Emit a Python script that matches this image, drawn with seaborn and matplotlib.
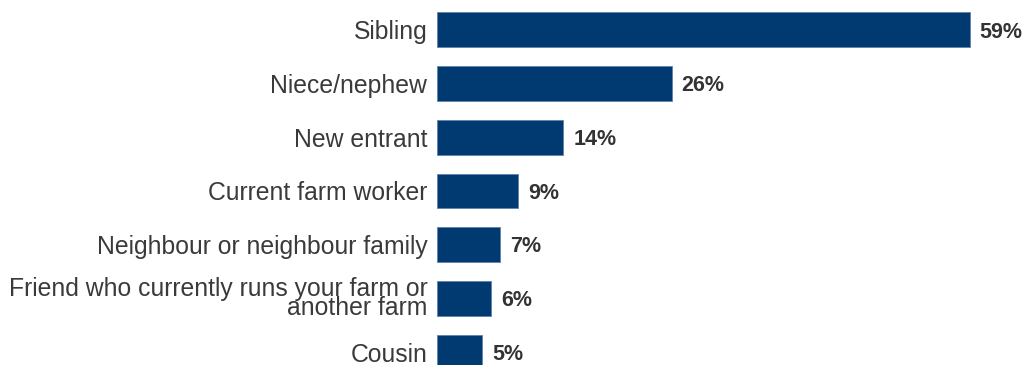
import matplotlib
matplotlib.use("Agg")
import matplotlib.pyplot as plt
import seaborn as sns
import pandas as pd

categories = [
    "Sibling",
    "Niece/nephew",
    "New entrant",
    "Current farm worker",
    "Neighbour or neighbour family",
    "Friend who currently runs your farm or\nanother farm",
    "Cousin",
]
values = [59, 26, 14, 9, 7, 6, 5]
value_labels = ["59%", "26%", "14%", "9%", "7%", "6%", "5%"]

sns.set_theme(style="white")
plt.rcParams["font.family"] = ["Liberation Sans", "DejaVu Sans"]

df = pd.DataFrame({"category": categories, "value": values})

W, H = 1027, 365
fig = plt.figure(figsize=(W / 100, H / 100), dpi=100)
ax = fig.add_axes([437 / W, (H - 379) / H, (1024 - 437) / W, 376 / H])

sns.barplot(data=df, x="value", y="category", orient="h", color="#003a70",
            saturation=1, width=0.65, edgecolor="#5f82ad", linewidth=0.6, ax=ax)

ax.set_xlim(0, 65)
ax.set_ylim(6.5, -0.5)
ax.set_xlabel("")
ax.set_ylabel("")
ax.set_xticks([])
for s in ax.spines.values():
    s.set_visible(False)

ax.tick_params(axis="y", length=0, pad=7)
ax.set_yticks(range(len(categories)))
ax.set_yticklabels(categories, fontsize=17.8, color="#3a3a3a", linespacing=0.72)

for i, (v, lab) in enumerate(zip(values, value_labels)):
    ax.text(v + 1.1, i + 0.04, lab, va="center", ha="left", fontsize=15.5,
            fontweight="bold", color="#333333")

fig.savefig("out.png", dpi=100)
